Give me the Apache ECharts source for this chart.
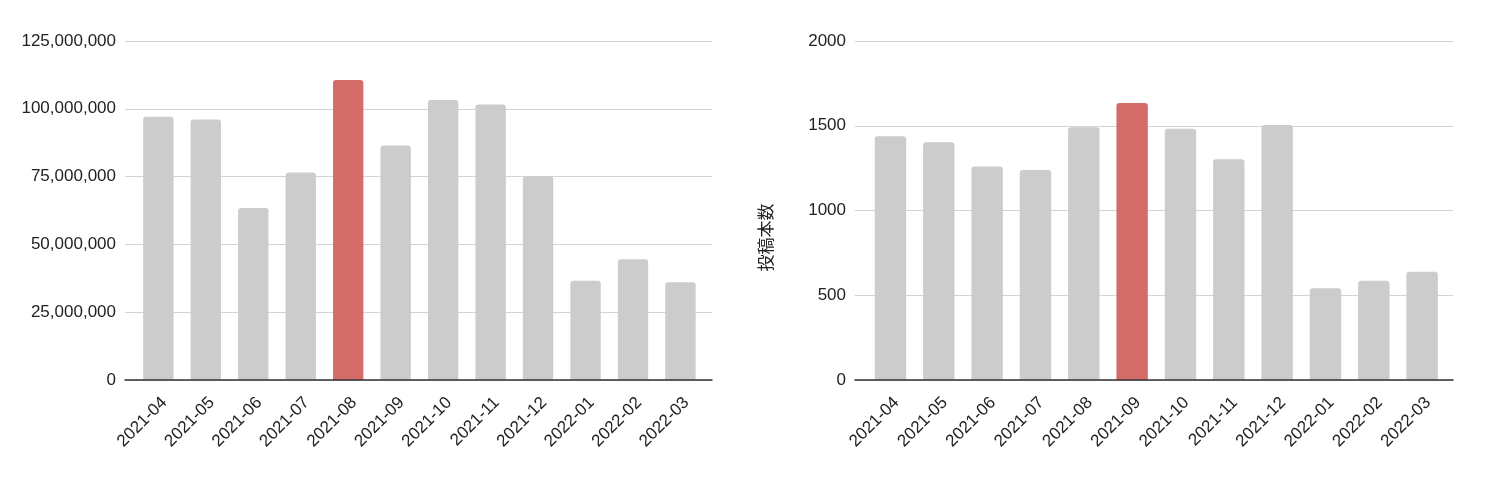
<!DOCTYPE html>
<html>
<head>
<meta charset="utf-8">
<script src="https://cdn.jsdelivr.net/npm/echarts@6/dist/echarts.min.js"></script>
<style>
html,body{margin:0;padding:0;background:#fff;}
#chart{width:1486px;height:478px;}
</style>
</head>
<body>
<div id="chart"></div>
<script>
var months = ['2021-04','2021-05','2021-06','2021-07','2021-08','2021-09','2021-10','2021-11','2021-12','2022-01','2022-02','2022-03'];
var views = [97100000,96100000,63400000,76500000,110600000,86500000,103200000,101600000,75000000,36600000,44500000,36000000];
var posts = [1438,1402,1259,1239,1491,1634,1483,1302,1504,541,586,639];
var viewsPeak = '2021-08';
var postsPeak = '2021-09';

var grey = '#cccccc';
var red = '#d46d6a';
var font = 'Liberation Sans, Arial, sans-serif';

var myChart = echarts.init(document.getElementById('chart'));

function colorList(peak){
	return months.map(function(m){ return m==peak ? red : grey; });
}

// frame grids (axis line + gridlines + y labels) and narrower bar grids inside them
function frameX(idx){
	return {
		type:'category', gridIndex:idx, data:months, z:5,
		axisTick:{show:false}, axisLabel:{show:false},
		axisLine:{lineStyle:{color:'#333',width:1.5}}
	};
}
function barX(idx){
	return {
		type:'category', gridIndex:idx, data:months,
		axisTick:{show:false}, axisLine:{show:false},
		axisLabel:{rotate:45, color:'#222', fontSize:17, fontFamily:font, margin:14, interval:0, align:'right', verticalAlign:'top'}
	};
}
function frameY(idx, max, interval, fmt){
	return {
		type:'value', gridIndex:idx, min:0, max:max, interval:interval,
		axisLine:{show:false}, axisTick:{show:false},
		splitLine:{lineStyle:{color:'#d3d3d3',width:1.2}},
		axisLabel:{color:'#222', fontSize:17, fontFamily:font, margin:9, formatter:fmt}
	};
}
function barY(idx, max){
	return {
		type:'value', gridIndex:idx, min:0, max:max, show:false, splitLine:{show:false}
	};
}

var postAxis = frameY(2, 2000, 500, function(v){ return String(v); });
postAxis.name = '投稿本数';
postAxis.nameLocation = 'middle';
postAxis.nameGap = 81;
postAxis.nameTextStyle = {color:'#222', fontSize:17, fontFamily:'Noto Sans CJK JP', padding:[0,54,0,0]};

var option = {
	animation:false,
	grid:[
		{left:125, right:774, top:41, bottom:98},
		{left:134.6, right:781.8, top:41, bottom:98},
		{left:855, right:33, top:41, bottom:98},
		{left:866.3, right:39.7, top:41, bottom:98}
	],
	xAxis:[frameX(0), barX(1), frameX(2), barX(3)],
	yAxis:[
		frameY(0, 125000000, 25000000, function(v){ return v.toLocaleString('en-US'); }),
		barY(1, 125000000),
		postAxis,
		barY(3, 2000)
	],
	series:[
		{
			type:'bar', xAxisIndex:1, yAxisIndex:1, data:views,
			barCategoryGap:'36%',
			itemStyle:{borderRadius:[3,3,0,0], color:function(p){ return colorList(viewsPeak)[p.dataIndex]; }}
		},
		{
			type:'bar', xAxisIndex:3, yAxisIndex:3, data:posts,
			barCategoryGap:'35%',
			itemStyle:{borderRadius:[3,3,0,0], color:function(p){ return colorList(postsPeak)[p.dataIndex]; }}
		}
	]
};

myChart.setOption(option);
</script>
</body>
</html>
